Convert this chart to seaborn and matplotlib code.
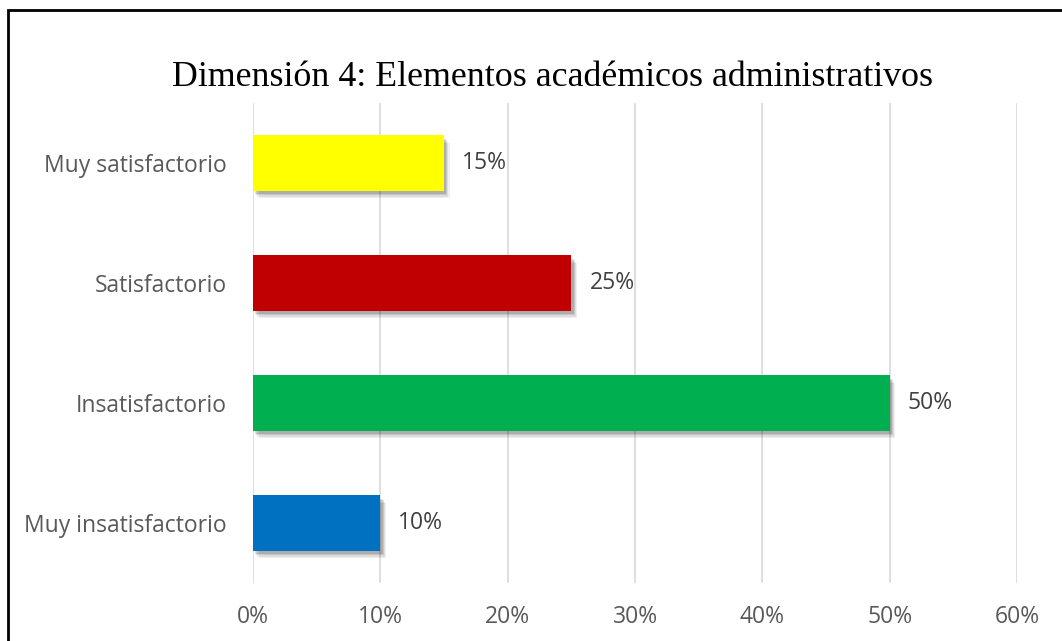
import matplotlib
matplotlib.use("Agg")
import matplotlib.pyplot as plt
import matplotlib.patheffects as pe
from matplotlib.patches import Rectangle
import seaborn as sns
import pandas as pd

categories = ["Muy satisfactorio", "Satisfactorio", "Insatisfactorio", "Muy insatisfactorio"]
values = [0.15, 0.25, 0.50, 0.10]
colors = ["#FFFF00", "#C00000", "#00B050", "#0070C0"]
xticks = [0, 0.1, 0.2, 0.3, 0.4, 0.5, 0.6]
xtick_labels = ["0%", "10%", "20%", "30%", "40%", "50%", "60%"]
title = "Dimensión 4: Elementos académicos administrativos"

df = pd.DataFrame({"cat": categories, "val": values})

sns.set_theme(style="white")
plt.rcParams["font.family"] = ["Open Sans", "DejaVu Sans"]

fig = plt.figure(figsize=(10.62, 6.41), dpi=100)
ax = fig.add_axes([253/1062, 1-583/641, (1017-253)/1062, (583-103)/641])

sns.barplot(data=df, x="val", y="cat", hue="cat", palette=colors, legend=False,
            width=0.46, ax=ax, order=categories, hue_order=categories, saturation=1)

shadow = [pe.SimplePatchShadow(offset=(o, -o * 1.4), shadow_rgbFace="#000000", alpha=a)
          for o, a in [(4.0, 0.06), (3.2, 0.08), (2.4, 0.10), (1.6, 0.12)]]
for p in ax.patches:
    p.set_edgecolor("none")
    p.set_path_effects(shadow + [pe.Normal()])

ax.set_xlim(0, 0.6)
ax.set_ylim(3.5, -0.5)
ax.set_xticks(xticks)
ax.set_xticklabels(xtick_labels)
ax.set_xlabel("")
ax.set_ylabel("")
ax.grid(axis="x", color="#D9D9D9", linewidth=1.2)
ax.set_axisbelow(True)
for s in ax.spines.values():
    s.set_visible(False)
ax.tick_params(axis="both", length=0, labelsize=16.5, labelcolor="#595959")
ax.tick_params(axis="x", pad=16)
ax.tick_params(axis="y", pad=19)

for i, v in enumerate(values):
    ax.annotate(f"{int(round(v*100))}%", (v, i), xytext=(13, 0), textcoords="offset points",
                va="center", ha="left", fontsize=16.5, color="#404040")

fig.text(552/1062, 1-78/641, title, ha="center", va="center",
         family=["Liberation Serif", "DejaVu Serif"], fontsize=25.8, color="#000000")

fig.patches.append(Rectangle((8/1062, -0.1), 1.1, 1.1 - 10/641, transform=fig.transFigure,
                             fill=False, edgecolor="black", linewidth=2))

fig.savefig("out.png", dpi=100)
